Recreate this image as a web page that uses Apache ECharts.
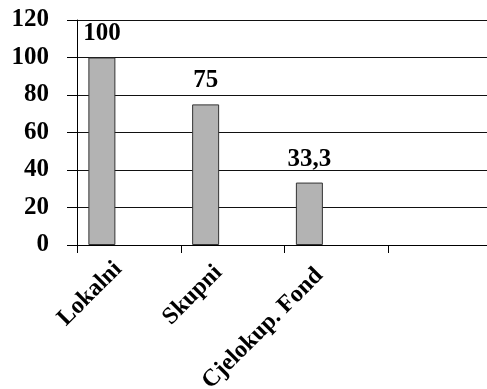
<!DOCTYPE html>
<html>
<head>
<meta charset="utf-8">
<script src="https://cdn.jsdelivr.net/npm/echarts@6/dist/echarts.min.js"></script>
<style>
html,body{margin:0;padding:0;background:#fff;}
#c{width:487px;height:389px;}
</style>
</head>
<body>
<div id="c"></div>
<script>
var categories = ['Lokalni', 'Skupni', 'Cjelokup. Fond', ''];
var values = [100, 75, 33.3, null];
var emptySeries = [null, null, null, null];
var yTicks = { min: 0, max: 120, interval: 20 };

// per-label nudges (label placement only)
var labelPads = [[0, 15, 6, 0], [0, 20, 10, 0], [0, 24, 12, 0], [0, 0, 0, 0]];

var font = 'Liberation Serif';
var chart = echarts.init(document.getElementById('c'), null, { renderer: 'canvas' });
chart.setOption({
  animation: false,
  backgroundColor: '#fff',
  grid: { left: 77, right: -5, top: 20, bottom: 144, containLabel: false, outerBoundsMode: 'none' },
  xAxis: {
    type: 'category',
    data: categories.map(function (c, i) { return { value: c, textStyle: { padding: labelPads[i] } }; }),
    boundaryGap: true,
    axisLine: { show: true, onZero: false, lineStyle: { color: '#000', width: 1 } },
    axisTick: { show: true, length: 8, alignWithLabel: false, lineStyle: { color: '#000' } },
    axisLabel: {
      rotate: 45,
      margin: 10,
      interval: 0,
      hideOverlap: false,
      fontFamily: font,
      fontWeight: 'bold',
      fontSize: 24,
      color: '#000'
    },
    splitLine: { show: false }
  },
  yAxis: {
    type: 'value',
    min: yTicks.min,
    max: yTicks.max,
    interval: yTicks.interval,
    axisLine: { show: true, lineStyle: { color: '#000', width: 1 } },
    axisTick: { show: true, length: 10, lineStyle: { color: '#000' } },
    axisLabel: {
      margin: 28,
      fontFamily: font,
      fontWeight: 'bold',
      fontSize: 25,
      color: '#000'
    },
    splitLine: { show: true, lineStyle: { color: '#111', width: 1 } }
  },
  series: [
    {
      type: 'bar',
      data: values,
      barWidth: 27,
      barGap: '100%',
      itemStyle: { color: '#b3b3b3', borderColor: '#333', borderWidth: 1 },
      label: {
        show: true,
        position: 'top',
        distance: 11,
        fontFamily: font,
        fontWeight: 'bold',
        fontSize: 25,
        color: '#000',
        formatter: function (p) { return p.value == null ? '' : String(p.value).replace('.', ','); }
      }
    },
    {
      type: 'bar',
      data: emptySeries,
      barWidth: 27
    }
  ]
});
</script>
</body>
</html>
